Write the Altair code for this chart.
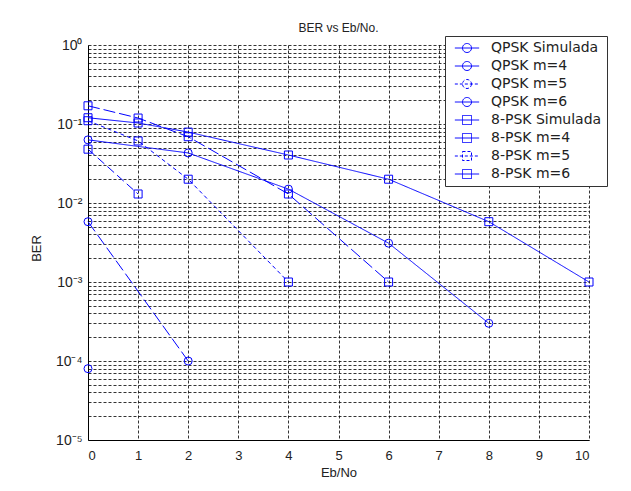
import altair as alt
import pandas as pd

# ---- data ----
series_names = ["QPSK Simulada", "QPSK m=4", "QPSK m=5", "QPSK m=6",
                "8-PSK Simulada", "8-PSK m=4", "8-PSK m=5", "8-PSK m=6"]

qpsk_sim_x = [0, 2, 4, 6, 8]
qpsk_sim_ber = [0.063, 0.043, 0.015, 0.0031, 0.0003]
qpsk_m4_x = [0, 2]
qpsk_m4_ber = [0.0058, 0.0001]
qpsk_m5_x = [0]
qpsk_m5_ber = [0.00008]
qpsk_m6_x = []
qpsk_m6_ber = []

psk8_sim_x = [0, 1, 2, 4, 6, 8, 10]
psk8_sim_ber = [0.12, 0.103, 0.079, 0.0405, 0.02, 0.0058, 0.001]
psk8_m4_x = [0, 1, 2, 4, 6]
psk8_m4_ber = [0.17, 0.119, 0.069, 0.013, 0.001]
psk8_m5_x = [0, 1, 2, 4]
psk8_m5_ber = [0.11, 0.061, 0.02, 0.001]
psk8_m6_x = [0, 1]
psk8_m6_ber = [0.048, 0.013]

x_ticks = list(range(0, 11))
y_ticks = [m * 10.0 ** k for k in range(-5, 0) for m in range(1, 10)] + [1.0]

rows = []
for name, grp, xs, ys in [
    ("QPSK Simulada", "QPSK", qpsk_sim_x, qpsk_sim_ber),
    ("QPSK m=4", "QPSK", qpsk_m4_x, qpsk_m4_ber),
    ("QPSK m=5", "QPSK", qpsk_m5_x, qpsk_m5_ber),
    ("QPSK m=6", "QPSK", qpsk_m6_x, qpsk_m6_ber),
    ("8-PSK Simulada", "8-PSK", psk8_sim_x, psk8_sim_ber),
    ("8-PSK m=4", "8-PSK", psk8_m4_x, psk8_m4_ber),
    ("8-PSK m=5", "8-PSK", psk8_m5_x, psk8_m5_ber),
    ("8-PSK m=6", "8-PSK", psk8_m6_x, psk8_m6_ber),
]:
    for xv, yv in zip(xs, ys):
        rows.append({"series": name, "group": grp, "ebno": xv, "ber": yv})
df = pd.DataFrame(rows)

BLUE = "#0000ff"
FONT = "Liberation Sans"
LFONT = "DejaVu Sans"

dashes = [[1, 0], [12, 4], [4, 3], [9, 4], [1, 0], [12, 4], [4, 3], [9, 4]]

circ = "M-2.7,0L2.7,0M1,0A1,1,0,1,1,-1,0A1,1,0,1,1,1,0"
sq = "M-2.7,0L2.7,0M-1,-1L1,-1L1,1L-1,1Z"
legend_shapes = [circ] * 4 + [sq] * 4
legend_dashes = [[1, 0], [1, 0], [3, 2], [1, 0], [1, 0], [1, 0], [3, 2], [1, 0]]

label_expr = (
    "datum.value == 1 ? '10⁰' : datum.value == 0.1 ? '10⁻¹' : "
    "datum.value == 0.01 ? '10⁻²' : datum.value == 0.001 ? '10⁻³' : "
    "datum.value == 0.0001 ? '10⁻⁴' : datum.value == 0.00001 ? '10⁻⁵' : ''"
)

x_enc = alt.X(
    "ebno:Q",
    scale=alt.Scale(domain=[0, 10], nice=False, zero=False),
    axis=alt.Axis(values=x_ticks, title="Eb/No", ticks=False, tickSize=0,
                  labelPadding=9, grid=True, titleY=26, titleBaseline="top"),
)
y_enc = alt.Y(
    "ber:Q",
    scale=alt.Scale(type="log", domain=[1e-5, 1], nice=False),
    axis=alt.Axis(values=y_ticks, labelExpr=label_expr, labelOverlap=False,
                  title="BER", ticks=False, tickSize=0, labelPadding=6, grid=True,
                  labelFontSize=14,
                  titleX=-52, titleY=203, titleBaseline="middle"),
)

lines = alt.Chart(df).mark_line(strokeWidth=1, color=BLUE).encode(
    x=x_enc, y=y_enc,
    strokeDash=alt.StrokeDash("series:N", scale=alt.Scale(domain=series_names, range=dashes), legend=None),
    detail="series:N",
    order=alt.Order("ebno:Q"),
)

points = alt.Chart(df).mark_point(filled=False, size=64, strokeWidth=1, color=BLUE, opacity=1).encode(
    x=x_enc, y=y_enc,
    shape=alt.Shape("group:N", scale=alt.Scale(domain=["QPSK", "8-PSK"], range=["circle", "square"]), legend=None),
)

leg = dict(title=None, orient="none", legendX=357, legendY=-9,
           fillColor="white", strokeColor="#333", padding=5,
           symbolSize=81, symbolOffset=10, labelOffset=17,
           symbolStrokeWidth=1, rowPadding=4,
           labelFont=LFONT, labelFontSize=14, labelColor="#222")

legend_layer = alt.Chart(df).transform_filter("datum.ber < 0").mark_point(
    filled=False, strokeWidth=1, color=BLUE, opacity=1
).encode(
    x=x_enc, y=y_enc,
    shape=alt.Shape("series:N", scale=alt.Scale(domain=series_names, range=legend_shapes),
                    legend=alt.Legend(**leg)),
    strokeDash=alt.StrokeDash("series:N", scale=alt.Scale(domain=series_names, range=legend_dashes),
                              legend=alt.Legend(**leg)),
)

chart = alt.layer(lines, points, legend_layer).resolve_scale(
    shape="independent", strokeDash="independent"
).properties(
    width=501, height=395,
    title=alt.TitleParams("BER vs Eb/No.", font=FONT, fontSize=12, fontWeight="normal",
                          color="#222", anchor="middle", offset=5, dy=4),
    autosize=alt.AutoSizeParams(type="none"),
    padding={"left": 88, "top": 45, "right": 42, "bottom": 51},
    background="white",
).configure_view(strokeWidth=0).configure_axis(
    labelFont=FONT, labelFontSize=13, labelColor="#222",
    titleFont=FONT, titleFontSize=13, titleColor="#222", titleFontWeight="normal",
    domainColor="#000", domainWidth=1,
    gridColor="#000", gridDash=[3, 2], gridOpacity=0.8, gridWidth=1,
)

chart.save("out.html", embed_options={"renderer": "svg", "actions": False})
